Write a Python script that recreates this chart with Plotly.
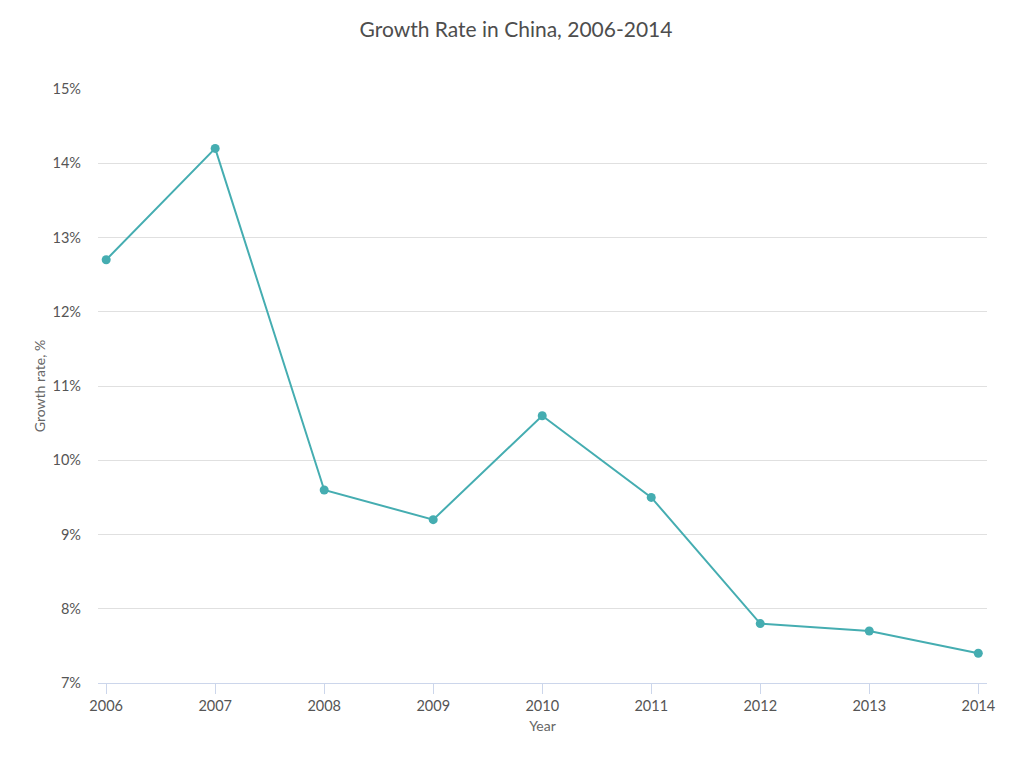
import plotly.graph_objects as go

years = [2006, 2007, 2008, 2009, 2010, 2011, 2012, 2013, 2014]
growth_rate = [12.7, 14.2, 9.6, 9.2, 10.6, 9.5, 7.8, 7.7, 7.4]
y_ticks = [7, 8, 9, 10, 11, 12, 13, 14, 15]

TEAL = "#45adb1"
FONT = "Lato, 'Open Sans', sans-serif"

fig = go.Figure()

fig.add_trace(
    go.Scatter(
        x=years,
        y=growth_rate,
        mode="lines+markers",
        line=dict(color=TEAL, width=2),
        marker=dict(color=TEAL, size=9),
        name="Growth rate",
        hovertemplate="%{x}: %{y}%<extra></extra>",
    )
)

# page body keeps an 8px margin, so the figure is sized to fit inside it
fig.update_layout(
    width=1016,
    height=760,
    margin=dict(l=90, r=37, t=81, b=85),
    paper_bgcolor="white",
    plot_bgcolor="white",
    showlegend=False,
    font=dict(family=FONT, color="#555555", size=14),
    title=dict(
        text="Growth Rate in China, 2006-2014",
        x=0.5, xanchor="center",
        y=0.971, yanchor="middle",
        font=dict(size=21, color="#4d4d4d", family=FONT),
    ),
)

fig.update_xaxes(
    range=[2005.925, 2014.08],
    tickmode="array",
    tickvals=years,
    ticktext=[str(y) for y in years],
    showgrid=False,
    showline=True,
    linecolor="#ccd6eb",
    linewidth=1,
    ticks="outside",
    ticklen=10,
    tickcolor="#ccd6eb",
    tickfont=dict(size=14.5, color="#555555"),
    title=dict(text="Year", font=dict(size=14, color="#666666"), standoff=7),
    zeroline=False,
)

fig.update_yaxes(
    range=[7, 15],
    tickmode="array",
    tickvals=y_ticks,
    ticktext=[f"{v}%" for v in y_ticks],
    showgrid=True,
    gridcolor="#e0e0e0",
    gridwidth=1,
    showline=False,
    ticks="",
    ticklabelstandoff=16,
    tickfont=dict(size=14.5, color="#555555"),
    title=dict(text="Growth rate, %", font=dict(size=14, color="#666666"), standoff=3),
    zeroline=False,
)

fig.write_html("out.html")
